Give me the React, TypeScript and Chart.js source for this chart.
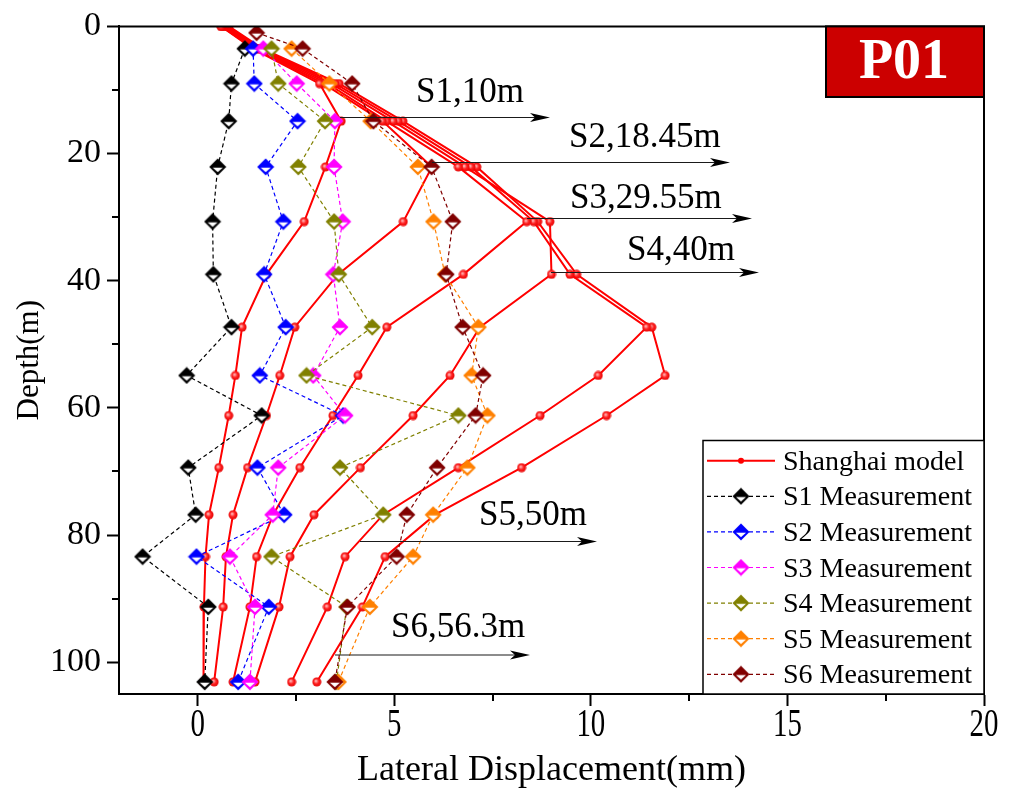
import React, { useEffect, useRef } from "react";
import { Chart, registerables } from "chart.js";

Chart.register(...registerables);

const SERIF = "'Liberation Serif', 'Times New Roman', serif";

// ---- data ----
const modelDepths = [0, 3.5, 9, 14.9, 22.1, 30.7, 39, 47.3, 54.9, 61.2, 69.4, 76.8, 83.4, 91.3, 103.1];
const modelS1 = [0.6, 1.4, 3.1, 3.65, 3.25, 2.71, 1.75, 1.13, 0.96, 0.79, 0.54, 0.29, 0.2, 0.16, 0.15];
const modelS2 = [0.6, 1.45, 3.2, 4.7, 5.96, 5.23, 3.57, 2.47, 2.09, 1.75, 1.27, 0.9, 0.72, 0.65, 0.42];
const modelS3 = [0.65, 1.5, 3.3, 4.8, 6.63, 8.37, 6.76, 4.81, 4.08, 3.44, 2.6, 1.92, 1.5, 1.33, 0.9];
const modelS4 = [0.7, 1.55, 3.4, 4.97, 6.8, 8.96, 9.0, 7.18, 6.42, 5.48, 4.14, 2.96, 2.35, 2.07, 1.46];
const modelS5 = [0.75, 1.6, 3.5, 5.1, 6.95, 8.55, 9.47, 11.42, 10.19, 8.71, 6.63, 4.72, 3.75, 3.3, 2.39];
const modelS6 = [0.8, 1.65, 3.6, 5.22, 7.1, 8.65, 9.64, 11.55, 11.89, 10.4, 8.24, 6.04, 4.77, 4.19, 3.03];

const measDepths = [1.0, 3.5, 9, 14.9, 22.1, 30.7, 39, 47.3, 54.9, 61.2, 69.4, 76.8, 83.4, 91.3, 103.1];
const measS1 = [null, 1.2, 0.86, 0.79, 0.51, 0.38, 0.4, 0.86, -0.28, 1.63, -0.24, -0.05, -1.4, 0.27, 0.18];
const measS2 = [null, 1.41, 1.44, 2.54, 1.73, 2.18, 1.69, 2.24, 1.58, 3.7, 1.52, 2.2, -0.03, 1.81, 1.03];
const measS3 = [null, 1.67, 2.52, 3.49, 3.47, 3.69, 3.45, 3.62, 2.94, 3.75, 2.05, 1.91, 0.82, 1.46, 1.33];
const measS4 = [null, 1.88, 2.05, 3.24, 2.56, 3.47, 3.59, 4.44, 2.77, 6.63, 3.62, 4.72, 1.88, 3.79, 3.53];
const measS5 = [null, 2.39, 3.35, 4.4, 5.6, 6.0, 6.29, 7.14, 6.97, 7.37, 6.86, 5.99, 5.48, 4.38, 3.58];
const measS6 = [1.5, 2.67, 3.93, 4.47, 5.95, 6.49, 6.32, 6.74, 7.26, 7.07, 6.09, 5.32, 5.06, 3.81, 3.49];

const measNames = ["S1 Measurement", "S2 Measurement", "S3 Measurement", "S4 Measurement", "S5 Measurement", "S6 Measurement"];
const measColors = ["#000000", "#0000ff", "#ff00ff", "#808000", "#ff8000", "#800000"];
const modelName = "Shanghai model";

const xTicks = [0, 5, 10, 15, 20];
const xTickLabels = ["0", "5", "10", "15", "20"];
const xMinor = [2.5, 7.5, 12.5, 17.5];
const yTicks = [0, 20, 40, 60, 80, 100];
const yMinor = [10, 30, 50, 70, 90];

const stageLabels = ["S1,10m", "S2,18.45m", "S3,29.55m", "S4,40m", "S5,50m", "S6,56.3m"];
const panelLabel = "P01";

// ---- marker images ----
function makeDiamond(color: string): HTMLCanvasElement {
  const s = 18;
  const c = document.createElement("canvas");
  c.width = s;
  c.height = s;
  const g = c.getContext("2d")!;
  const h = s / 2;
  g.beginPath();
  g.moveTo(h, 0.5);
  g.lineTo(s - 0.5, h);
  g.lineTo(h, s - 0.5);
  g.lineTo(0.5, h);
  g.closePath();
  g.fillStyle = color;
  g.fill();
  g.beginPath();
  g.moveTo(h - 5, h + 0.8);
  g.lineTo(h + 5, h + 0.8);
  g.lineTo(h, h + 5.2);
  g.closePath();
  g.fillStyle = "#ffffff";
  g.fill();
  return c;
}

function makeBall(): HTMLCanvasElement {
  const s = 10;
  const c = document.createElement("canvas");
  c.width = s;
  c.height = s;
  const g = c.getContext("2d")!;
  const grad = g.createRadialGradient(4, 4, 0.5, 5, 5, 5);
  grad.addColorStop(0, "#ffb0b0");
  grad.addColorStop(0.45, "#ff2020");
  grad.addColorStop(1, "#e00000");
  g.beginPath();
  g.arc(5, 5, 4.5, 0, Math.PI * 2);
  g.fillStyle = grad;
  g.fill();
  return c;
}

function pts(xs: (number | null)[], ds: number[]) {
  return ds.map((d, i) => ({ x: xs[i] as number, y: d })).filter((p) => p.x !== null && p.x !== undefined);
}

function arrow(ctx: CanvasRenderingContext2D, x0: number, x1: number, y: number) {
  ctx.save();
  ctx.strokeStyle = "#1a1a1a";
  ctx.lineWidth = 1.2;
  ctx.beginPath();
  ctx.moveTo(x0, y);
  ctx.lineTo(x1 - 14, y);
  ctx.stroke();
  ctx.fillStyle = "#000";
  ctx.beginPath();
  ctx.moveTo(x1, y);
  ctx.lineTo(x1 - 20, y - 4.5);
  ctx.lineTo(x1 - 15, y);
  ctx.lineTo(x1 - 20, y + 4.5);
  ctx.closePath();
  ctx.fill();
  ctx.restore();
}

export default function App() {
  const ref = useRef<HTMLCanvasElement>(null);

  useEffect(() => {
    document.body.style.margin = "0";
    const canvas = ref.current!;
    const diamonds = measColors.map((c) => makeDiamond(c));
    const ball = makeBall();

    const models = [modelS1, modelS2, modelS3, modelS4, modelS5, modelS6];
    const meas = [measS1, measS2, measS3, measS4, measS5, measS6];

    const datasets: any[] = [];
    models.forEach((m, i) => {
      datasets.push({
        label: i === 0 ? modelName : modelName + " " + (i + 1),
        data: pts(m, modelDepths),
        showLine: true,
        borderColor: "#ff0000",
        borderWidth: 2,
        pointStyle: ball,
        pointRadius: 5,
        order: 20,
      });
    });
    meas.forEach((m, i) => {
      datasets.push({
        label: measNames[i],
        data: pts(m, measDepths),
        showLine: true,
        borderColor: measColors[i],
        borderWidth: 1.2,
        borderDash: [4, 3],
        pointStyle: diamonds[i],
        pointRadius: 9,
        order: 6 - i,
      });
    });

    const decor = {
      id: "decor",
      afterDatasetsDraw(chart: any) {
        const { ctx, chartArea: a, scales } = chart;
        const xs = scales.x;
        const ys = scales.y;
        ctx.save();
        // frame top & right
        ctx.strokeStyle = "#000";
        ctx.lineWidth = 2;
        ctx.beginPath();
        ctx.moveTo(a.left - 1, a.top);
        ctx.lineTo(a.right, a.top);
        ctx.lineTo(a.right, a.bottom + 1);
        ctx.stroke();
        // minor ticks
        ctx.beginPath();
        xMinor.forEach((v) => {
          const px = Math.round(xs.getPixelForValue(v));
          ctx.moveTo(px, a.bottom);
          ctx.lineTo(px, a.bottom + 7);
        });
        yMinor.forEach((v) => {
          const py = Math.round(ys.getPixelForValue(v));
          ctx.moveTo(a.left, py);
          ctx.lineTo(a.left - 7, py);
        });
        ctx.stroke();

        // x tick labels (condensed serif)
        ctx.fillStyle = "#000";
        ctx.font = `39px ${SERIF}`;
        ctx.textAlign = "center";
        ctx.textBaseline = "alphabetic";
        xTicks.forEach((v, i) => {
          const px = xs.getPixelForValue(v);
          ctx.save();
          ctx.translate(px, 736);
          ctx.scale(0.74, 1);
          ctx.fillText(xTickLabels[i], 0, 0);
          ctx.restore();
        });

        // stage annotations
        ctx.font = `35px ${SERIF}`;
        ctx.textAlign = "left";
        const ann = [
          { t: stageLabels[0], tx: 416, ty: 102, x0: 340, x1: 550, y: 117.5 },
          { t: stageLabels[1], tx: 569, ty: 147, x0: 432, x1: 730, y: 162.5 },
          { t: stageLabels[2], tx: 570, ty: 208, x0: 527, x1: 752, y: 218.5 },
          { t: stageLabels[3], tx: 627, ty: 260, x0: 551, x1: 759, y: 272.5 },
          { t: stageLabels[4], tx: 479, ty: 525, x0: 360, x1: 597, y: 541.5 },
          { t: stageLabels[5], tx: 391, ty: 637, x0: 335, x1: 530, y: 655 },
        ];
        ann.forEach((n) => {
          arrow(ctx, n.x0, n.x1, n.y);
          ctx.fillText(n.t, n.tx, n.ty);
        });

        // panel label
        ctx.fillStyle = "#cc0000";
        ctx.fillRect(826, a.top, a.right - 826, 97 - a.top);
        ctx.strokeStyle = "#000";
        ctx.lineWidth = 2;
        ctx.strokeRect(826, a.top, a.right - 826, 97 - a.top);
        ctx.fillStyle = "#ffffff";
        ctx.font = `bold 56px ${SERIF}`;
        ctx.textAlign = "center";
        ctx.fillText(panelLabel, 904, 78);

        // legend
        const lx0 = 703;
        const ly0 = 440.5;
        ctx.fillStyle = "#fff";
        ctx.fillRect(lx0, ly0, a.right - lx0, a.bottom - ly0);
        ctx.strokeStyle = "#000";
        ctx.lineWidth = 1.5;
        ctx.strokeRect(lx0, ly0, a.right - lx0, a.bottom - ly0);
        ctx.font = `28px ${SERIF}`;
        ctx.textAlign = "left";
        const items = [modelName, ...measNames];
        items.forEach((name, i) => {
          const ry = 460.7 + i * 35.6;
          ctx.save();
          if (i === 0) {
            ctx.strokeStyle = "#ff0000";
            ctx.lineWidth = 2;
            ctx.beginPath();
            ctx.moveTo(707, ry);
            ctx.lineTo(775, ry);
            ctx.stroke();
            ctx.fillStyle = "#ff0000";
            ctx.beginPath();
            ctx.arc(741, ry, 3, 0, Math.PI * 2);
            ctx.fill();
          } else {
            ctx.strokeStyle = measColors[i - 1];
            ctx.lineWidth = 1.2;
            ctx.setLineDash([4, 3]);
            ctx.beginPath();
            ctx.moveTo(707, ry);
            ctx.lineTo(775, ry);
            ctx.stroke();
            const d = diamonds[i - 1];
            ctx.drawImage(d, 741 - d.width / 2, ry - d.height / 2);
          }
          ctx.restore();
          ctx.fillStyle = "#000";
          ctx.fillText(name, 783, ry + 9);
        });
        ctx.restore();
      },
    };

    const chart = new Chart(canvas, {
      type: "scatter",
      data: { datasets },
      options: {
        animation: false,
        responsive: false,
        devicePixelRatio: 1,
        layout: { padding: { top: 22, right: 34, left: 0, bottom: 0 } },
        plugins: { legend: { display: false }, tooltip: { enabled: false } },
        scales: {
          x: {
            type: "linear",
            min: -2,
            max: 20,
            afterBuildTicks: (s: any) => {
              s.ticks = xTicks.map((v) => ({ value: v }));
            },
            afterFit: (s: any) => {
              s.height = 100;
            },
            ticks: { display: false },
            grid: { drawOnChartArea: false, drawTicks: true, tickLength: 12, tickColor: "#000", tickWidth: 2 },
            border: { color: "#000", width: 2 },
            title: {
              display: true,
              text: "Lateral Displacement(mm)",
              color: "#000",
              font: { family: SERIF, size: 36 },
              padding: { top: 0, bottom: 2 },
            },
          },
          y: {
            type: "linear",
            reverse: true,
            min: 0,
            max: 105,
            afterBuildTicks: (s: any) => {
              s.ticks = yTicks.map((v) => ({ value: v }));
            },
            afterFit: (s: any) => {
              s.width = 119;
            },
            ticks: { color: "#000", font: { family: SERIF, size: 34 }, padding: 6 },
            grid: { drawOnChartArea: false, tickLength: 12, tickColor: "#000", tickWidth: 2 },
            border: { color: "#000", width: 2 },
            title: {
              display: true,
              text: "Depth(m)",
              color: "#000",
              font: { family: SERIF, size: 31 },
              padding: { top: 11, bottom: 0 },
            },
          },
        },
      },
      plugins: [decor],
    });
    return () => chart.destroy();
  }, []);

  return (
    <div style={{ width: 1018, height: 794 }}>
      <canvas ref={ref} width={1018} height={794} style={{ display: "block", width: 1018, height: 794 }} />
    </div>
  );
}
